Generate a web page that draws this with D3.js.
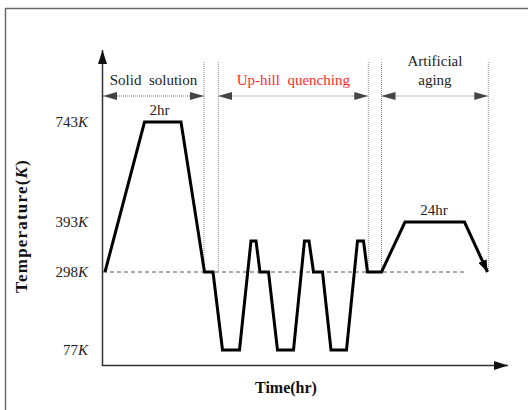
<!DOCTYPE html>
<html>
<head>
<meta charset="utf-8">
<script src="https://cdn.jsdelivr.net/npm/d3@7"></script>
<style>
  html, body { margin: 0; padding: 0; background: #fff; }
  svg { display: block; font-family: "Liberation Serif", "DejaVu Serif", serif; }
</style>
</head>
<body>
<svg id="chart" width="528" height="410"></svg>
<script>
// ---- data (time in arbitrary units, temperature in K) ----
const times = [0.4, 8.3, 15.6, 20.3, 22.0, 23.9, 27.3, 29.6, 30.6, 31.4, 33.1, 34.9, 38.1, 40.3, 41.2, 42.1, 43.9, 45.6, 48.7, 50.9, 52.1, 52.9, 55.7, 60.4, 72.3, 76.9];
const temps = [298, 743, 743, 298, 298, 77, 77, 357, 357, 298, 298, 77, 77, 357, 357, 298, 298, 77, 77, 357, 357, 298, 298, 393, 393, 298];
const tempTicks = [77, 298, 393, 743];
const tempTickLabels = ["77", "298", "393", "743"];
const phaseNames = [["Solid  solution"], ["Up-hill  quenching"], ["Artificial", "aging"]];
const phaseStart = [0, 23.06, 55.7];
const phaseEnd = [20.2, 53.06, 77.06];
const holdLabels = ["2hr", "24hr"];
const holdTimes = [11.3, 66.2];
const holdTemps = [743, 393];
const roomTemp = 298;
const dashEnd = 72.3;

// ---- scales ----
const x = d3.scaleLinear().domain([0, 81]).range([103, 508]);
const y = d3.scaleLinear().domain([77, 298, 393, 743]).range([350, 272, 222, 122]);

const svg = d3.select("#chart");
const defs = svg.append("defs");
function marker(id, w, h, color) {
  defs.append("marker").attr("id", id)
    .attr("viewBox", `0 0 ${w} ${h}`).attr("refX", w).attr("refY", h / 2)
    .attr("markerWidth", w).attr("markerHeight", h)
    .attr("markerUnits", "userSpaceOnUse").attr("orient", "auto-start-reverse")
    .append("path").attr("d", `M0,0L${w},${h / 2}L0,${h}Z`).attr("fill", color);
}
marker("axArrow", 14, 9, "#111");
marker("phArrow", 14, 8, "#444");
marker("endArrow", 12, 9, "#000");

// frame
svg.append("path").attr("d", "M5.5,410V8.5H528").attr("fill", "none")
  .attr("stroke", "#6a6a6a").attr("stroke-width", 1.5);

// axes
const axisY = 365.5;
svg.append("line").attr("x1", x(0) - 0.5).attr("x2", x(0) - 0.5)
  .attr("y1", axisY).attr("y2", 50)
  .attr("stroke", "#333").attr("stroke-width", 1.5).attr("marker-end", "url(#axArrow)");
svg.append("line").attr("x1", x(0) - 1.2).attr("x2", 508)
  .attr("y1", axisY).attr("y2", axisY)
  .attr("stroke", "#333").attr("stroke-width", 1.5).attr("marker-end", "url(#axArrow)");

// y tick labels via axis
const gy = svg.append("g").attr("transform", `translate(${x(0)},0)`)
  .call(d3.axisLeft(y).tickValues(tempTicks).tickSize(0).tickPadding(15).tickFormat(""));
gy.select(".domain").remove();
gy.selectAll(".tick text").each(function (d, i) {
  const t = d3.select(this).attr("font-size", 15).attr("font-family", "Liberation Serif").attr("fill", "#222");
  t.append("tspan").text(tempTickLabels[i]);
  t.append("tspan").attr("font-style", "italic").text("K");
});

// axis titles
const yt = svg.append("text").attr("transform", "translate(27,226) rotate(-90)")
  .attr("text-anchor", "middle").attr("font-weight", "bold").attr("font-size", 17)
  .attr("letter-spacing", 1.2).attr("fill", "#111");
yt.append("tspan").text("Temperature(");
yt.append("tspan").attr("font-style", "italic").text("K");
yt.append("tspan").text(")");
svg.append("text").attr("x", 286).attr("y", 393).attr("text-anchor", "middle")
  .attr("font-weight", "bold").attr("font-size", 16).attr("fill", "#111").text("Time(hr)");

// phase dotted boundaries
const bounds = [...phaseEnd, ...phaseStart.slice(1)];
svg.selectAll("line.bound").data(bounds).join("line").attr("class", "bound")
  .attr("x1", d => x(d)).attr("x2", d => x(d)).attr("y1", 62).attr("y2", y(roomTemp))
  .attr("stroke", "#8a8a8a").attr("stroke-width", 1).attr("stroke-dasharray", "1,1");

// phase arrows
phaseStart.forEach((s, i) => {
  svg.append("line").attr("x1", x(s)).attr("x2", x(phaseEnd[i])).attr("y1", 96).attr("y2", 96)
    .attr("stroke", "#777").attr("stroke-width", 1.2).attr("stroke-dasharray", "1,1")
    .attr("marker-start", "url(#phArrow)").attr("marker-end", "url(#phArrow)");
  const lines = phaseNames[i];
  const cx = (x(s) + x(phaseEnd[i])) / 2 + (i === 0 ? 0 : 0);
  lines.forEach((ln, j) => {
    svg.append("text").attr("x", cx).attr("y", 85 - (lines.length - 1 - j) * 19)
      .attr("text-anchor", "middle").attr("font-size", 15).style("white-space", "pre")
      .attr("fill", i === 1 ? "#ff2a2a" : "#222").text(ln);
  });
});

// room temperature dashed line
svg.append("line").attr("x1", x(0)).attr("x2", x(dashEnd)).attr("y1", y(roomTemp)).attr("y2", y(roomTemp))
  .attr("stroke", "#555").attr("stroke-width", 1).attr("stroke-dasharray", "4,3");

// temperature profile
const pts = times.map((t, i) => [t, temps[i]]);
svg.append("path").datum(pts)
  .attr("d", d3.line().x(d => x(d[0])).y(d => y(d[1])))
  .attr("fill", "none").attr("stroke", "#000").attr("stroke-width", 3)
  .attr("stroke-linejoin", "miter").attr("marker-end", "url(#endArrow)");

// hold labels
holdLabels.forEach((l, i) => {
  svg.append("text").attr("x", x(holdTimes[i])).attr("y", y(holdTemps[i]) - 7)
    .attr("text-anchor", "middle").attr("font-size", 15).attr("fill", "#222").text(l);
});
</script>
</body>
</html>
